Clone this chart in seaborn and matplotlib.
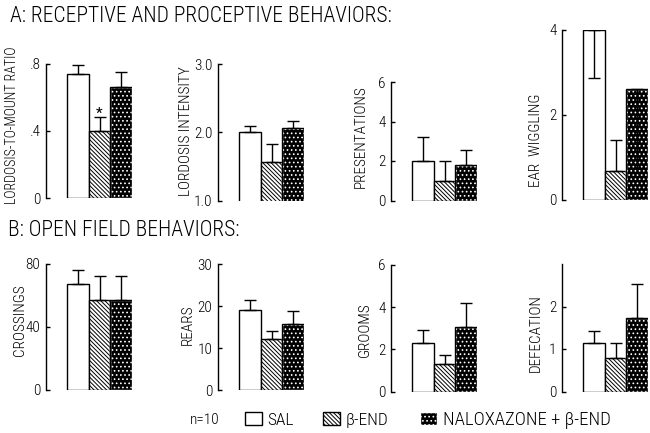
import numpy as np
import pandas as pd
import matplotlib
matplotlib.use("Agg")
import matplotlib.pyplot as plt
from matplotlib.patches import Patch
import seaborn as sns

# treatment groups
groups = ["SAL", "\u03b2-END", "NALOXAZONE + \u03b2-END"]

# A: receptive and proceptive behaviors (mean, s.e.m.)
lordosis_ratio = [0.74, 0.40, 0.66]
lordosis_ratio_err = [0.055, 0.085, 0.09]
lordosis_intensity = [2.00, 1.56, 2.06]
lordosis_intensity_err = [0.09, 0.27, 0.10]
presentations = [2.0, 1.0, 1.8]
presentations_err = [1.2, 1.0, 0.75]
ear_wiggling = [4.0, 0.68, 2.6]
ear_wiggling_err = [1.12, 0.72, 1.96]
ear_wiggling_down = [True, False, True]

# B: open field behaviors
crossings = [67, 57, 57]
crossings_err = [9, 15, 15]
rears = [19.0, 12.2, 15.8]
rears_err = [2.4, 1.8, 3.0]
grooms = [2.32, 1.30, 3.08]
grooms_err = [0.58, 0.44, 1.14]
defecation = [1.13, 0.80, 1.72]
defecation_err = [0.30, 0.35, 0.80]

panels = [
    ("LORDOSIS-TO-MOUNT RATIO", lordosis_ratio, lordosis_ratio_err, None,
     (0, 0.8), [0, 0.4, 0.8], ["0", ".4", ".8"]),
    ("LORDOSIS INTENSITY", lordosis_intensity, lordosis_intensity_err, None,
     (1, 3), [1, 2, 3], ["1.0", "2.0", "3.0"]),
    ("PRESENTATIONS", presentations, presentations_err, None,
     (0, 6), [0, 2, 4, 6], ["0", "2", "4", "6"]),
    ("EAR  WIGGLING", ear_wiggling, ear_wiggling_err, ear_wiggling_down,
     (0, 4), [0, 2, 4], ["0", "2", "4"]),
    ("CROSSINGS", crossings, crossings_err, None,
     (0, 80), [0, 40, 80], ["0", "40", "80"]),
    ("REARS", rears, rears_err, None,
     (0, 30), [0, 10, 20, 30], ["0", "10", "20", "30"]),
    ("GROOMS", grooms, grooms_err, None,
     (0, 6), [0, 2, 4, 6], ["0", "2", "4", "6"]),
    ("DEFECATION", defecation, defecation_err, None,
     (0, 3), [0, 1, 2], ["0", "1", "2"]),
]

# layout in pixels (figure 650x433): spine x, axis bottom y, axis top y
W, H = 650, 433
spine_x = [46, 218, 391, 562]
rows = [
    [(198, 64), (200.5, 64), (200.5, 82), (200, 30)],
    [(389.5, 263.5), (390, 264), (391.5, 265), (391.5, 264)],
]
# right edge of the rotated label, vertical centre
label_pos = [
    [(19, 125), (193, 131), (368, 137), (543, 140)],
    [(27, 320), (195, 325), (372, 330), (543, 333)],
]
label_size = [10, 11, 11, 11, 11, 11, 11, 11]
AX_W = 86
BAR_PX = 21.5
OFFSET_PX = 21

sns.set_style("white")
plt.rcParams["font.family"] = ["Roboto Condensed", "DejaVu Sans"]
plt.rcParams["text.color"] = "black"
plt.rcParams["ytick.color"] = "black"
plt.rcParams["axes.labelcolor"] = "black"
plt.rcParams["hatch.linewidth"] = 0.7

fig = plt.figure(figsize=(6.5, 4.33), dpi=100)

DIAG = "\\" * 8
DOTS = "...."
hatches = [None, DIAG, DOTS]
faces = ["white", "white", "black"]
edges = ["black", "black", "white"]

for i, (ylabel, vals, errs, down, ylim, ticks, ticklabels) in enumerate(panels):
    r, c = divmod(i, 4)
    ybot, ytop = rows[r][c]
    left = spine_x[c]
    ax = fig.add_axes([left / W, 1 - ybot / H, AX_W / W, (ybot - ytop) / H])
    df = pd.DataFrame({"group": groups, "value": vals})
    sns.barplot(data=df, x="group", y="value", ax=ax, width=1.0,
                color="white", edgecolor="black", linewidth=1.0, errorbar=None)
    for p, h, fc, ec in zip(ax.patches, hatches, faces, edges):
        p.set_facecolor(fc)
        p.set_edgecolor(ec)
        if h:
            p.set_hatch(h)
    # black outline on top of the dotted bar
    ax.bar([2], [vals[2]], width=1.0, fill=False, edgecolor="black", linewidth=1.0)

    down = down or [False] * 3
    for x, v, e, d in zip(range(3), vals, errs, down):
        yerr = [[e], [0]] if d else [[0], [e]]
        ax.errorbar(x, v, yerr=yerr, fmt="none", ecolor="black",
                    elinewidth=1.0, capsize=4, capthick=1.0)

    ax.set_ylim(*ylim)
    ax.set_xlim(-0.5 - OFFSET_PX / BAR_PX, 2.5)
    ax.set_yticks(ticks)
    ax.set_yticklabels(ticklabels)
    ax.set_xticks([])
    ax.set_xlabel("")
    ax.set_ylabel(ylabel, fontsize=label_size[i], fontweight="light")
    lx, ly = label_pos[r][c]
    ax.yaxis.set_label_coords((lx - left) / AX_W, (ybot - ly) / (ybot - ytop))
    for s in ["top", "right", "bottom"]:
        ax.spines[s].set_visible(False)
    ax.spines["left"].set_linewidth(1.0)
    ax.spines["left"].set_color("black")
    ax.tick_params(axis="y", direction="in", length=3, width=1.0,
                   labelsize=11, pad=4, left=True)
    for t in ax.get_yticklabels():
        t.set_fontweight("light")
    ax.patch.set_alpha(0)

    if i == 0:
        ax.text(1, 0.50, "*", ha="center", va="center", fontsize=11)

fig.text(10 / W, 1 - 16 / H, "A: RECEPTIVE AND PROCEPTIVE BEHAVIORS:",
         fontsize=15.5, va="center", ha="left", fontweight="light")
fig.text(8 / W, 1 - 231 / H, "B: OPEN FIELD BEHAVIORS:",
         fontsize=15.5, va="center", ha="left", fontweight="light")

fig.text(190 / W, 1 - 420 / H, "n=10", fontsize=11, va="center", ha="left",
         fontweight="light")
handles = [
    Patch(facecolor="white", edgecolor="black"),
    Patch(facecolor="white", edgecolor="black", hatch=DIAG),
    Patch(facecolor="black", edgecolor="white", hatch=DOTS),
]
legend_x = [245, 323, 420]
legend_size = [12.5, 12.5, 13.5]
for h, g, lx, fs in zip(handles, groups, legend_x, legend_size):
    fig.legend([h], [g], loc="center left",
               bbox_to_anchor=(lx / W, 1 - 420 / H), frameon=False,
               prop={"size": fs, "weight": "light"}, handlelength=12.5 / fs,
               handleheight=0.7 * 12.5 / fs, handletextpad=0.3,
               borderaxespad=0, borderpad=0)

fig.savefig("out.png", dpi=100)
